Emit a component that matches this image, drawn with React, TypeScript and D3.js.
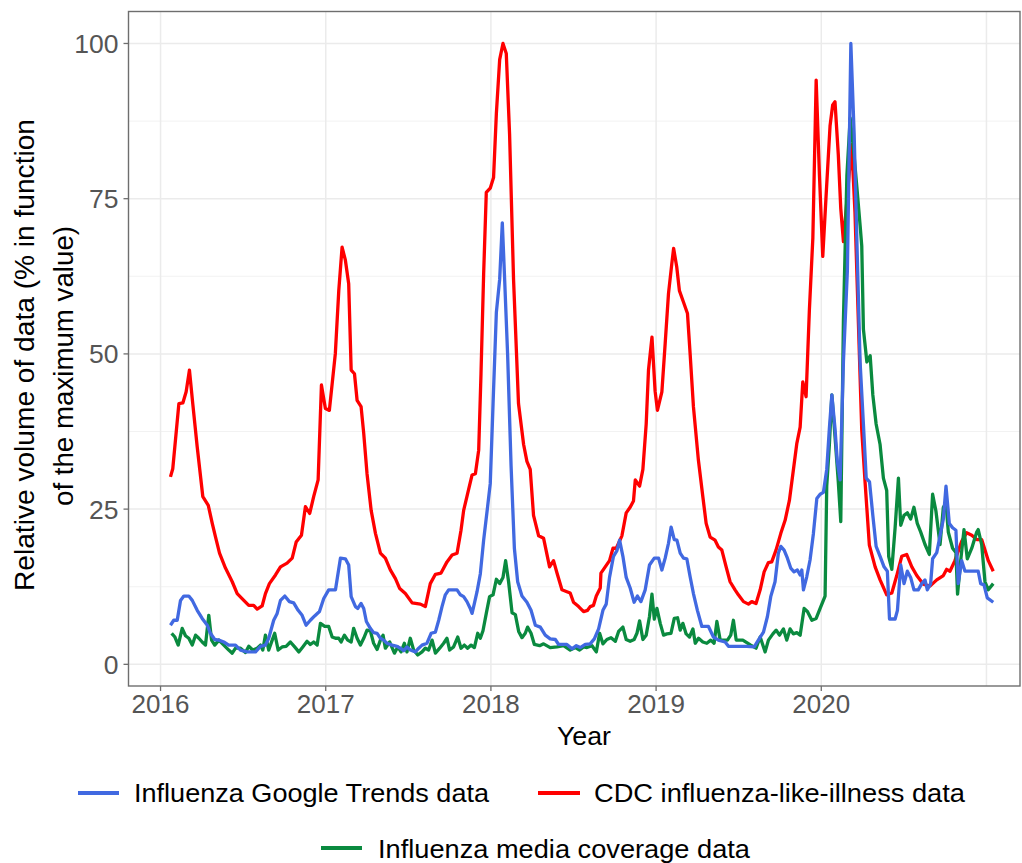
import React from "react";
import * as d3 from "d3";

// Weekly series: [decimal year, relative volume %]
const googleTrends: [number, number][] = [
  [2016.060, 6.3], [2016.080, 7.1], [2016.101, 7.1], [2016.121, 10.3], [2016.141, 11], [2016.171, 11],
  [2016.192, 10.3], [2016.222, 8.7], [2016.252, 7.4], [2016.283, 6.3], [2016.302, 5], [2016.328, 4],
  [2016.353, 3.9], [2016.383, 3.6], [2016.413, 3.1], [2016.454, 3.1], [2016.484, 2.3], [2016.525, 2],
  [2016.575, 2], [2016.605, 2.9], [2016.635, 3.1], [2016.655, 4.2], [2016.685, 7.1], [2016.706, 8.2],
  [2016.726, 10.3], [2016.752, 11], [2016.780, 10.1], [2016.806, 9.9], [2016.833, 8.7], [2016.857, 7.9],
  [2016.881, 6.3], [2016.907, 7.1], [2016.933, 7.8], [2016.962, 8.5], [2016.988, 10.6], [2017.018, 12],
  [2017.059, 12], [2017.089, 17.1], [2017.119, 17], [2017.139, 16], [2017.154, 10.9], [2017.180, 9.3],
  [2017.194, 9], [2017.214, 9.8], [2017.230, 9], [2017.246, 6.9], [2017.270, 5.8], [2017.290, 5.1],
  [2017.311, 5], [2017.331, 4.2], [2017.351, 3.9], [2017.371, 3.4], [2017.402, 3.1], [2017.432, 2.9],
  [2017.452, 2.6], [2017.472, 2.2], [2017.492, 2.8], [2017.512, 2.3], [2017.543, 2], [2017.563, 2.6],
  [2017.583, 3.1], [2017.613, 3.4], [2017.638, 5], [2017.664, 5.2], [2017.684, 7.1], [2017.704, 9.3],
  [2017.724, 11.2], [2017.744, 12], [2017.795, 12], [2017.815, 11.2], [2017.835, 10.9], [2017.855, 10.1],
  [2017.875, 9], [2017.886, 8.2], [2017.900, 9.8], [2017.916, 11.7], [2017.936, 14.6], [2017.956, 20],
  [2017.980, 25.4], [2017.996, 29.1], [2018.013, 42], [2018.033, 56.7], [2018.053, 62], [2018.069, 71.1],
  [2018.081, 63.4], [2018.101, 50], [2018.122, 32], [2018.142, 18.7], [2018.162, 13.3], [2018.188, 11],
  [2018.218, 10], [2018.243, 8.7], [2018.269, 6.3], [2018.299, 6], [2018.329, 4.7], [2018.359, 4.1],
  [2018.390, 4], [2018.410, 3.2], [2018.460, 3.2], [2018.491, 2.5], [2018.517, 3], [2018.541, 2.7],
  [2018.571, 3.2], [2018.601, 3.3], [2018.626, 4.1], [2018.652, 5.7], [2018.678, 8.7], [2018.698, 9.7],
  [2018.718, 14], [2018.742, 17.4], [2018.763, 18.3], [2018.779, 20], [2018.799, 17.4], [2018.819, 14],
  [2018.843, 12.3], [2018.867, 10], [2018.887, 11], [2018.908, 10.1], [2018.934, 12], [2018.960, 16],
  [2018.989, 17.1], [2019.015, 17.1], [2019.035, 15.2], [2019.055, 17.1], [2019.075, 19.5], [2019.091, 22.1],
  [2019.110, 20.1], [2019.126, 20], [2019.146, 17.9], [2019.166, 17.1], [2019.186, 17], [2019.206, 14.1],
  [2019.226, 11.4], [2019.250, 8.7], [2019.277, 6.1], [2019.317, 6.1], [2019.347, 4.4], [2019.377, 3.9],
  [2019.418, 3.6], [2019.438, 2.9], [2019.549, 2.9], [2019.594, 2.8], [2019.619, 3.9], [2019.650, 5.2],
  [2019.674, 7.7], [2019.694, 10.9], [2019.720, 13.3], [2019.740, 17.9], [2019.755, 19], [2019.775, 18.4],
  [2019.795, 17.1], [2019.815, 15.5], [2019.835, 14.9], [2019.855, 15.2], [2019.872, 14.4], [2019.882, 15.2],
  [2019.892, 12], [2019.912, 14.1], [2019.932, 16.8], [2019.952, 21], [2019.973, 26.7], [2019.993, 27.4],
  [2020.013, 27.7], [2020.033, 31.4], [2020.049, 38], [2020.064, 43.4], [2020.083, 38], [2020.097, 32.7],
  [2020.114, 29.7], [2020.134, 48.7], [2020.158, 63.4], [2020.179, 100], [2020.199, 85.4], [2020.215, 68.7],
  [2020.235, 48.7], [2020.255, 38.7], [2020.272, 30], [2020.292, 29.4], [2020.312, 24], [2020.332, 19],
  [2020.356, 17.4], [2020.380, 15.7], [2020.400, 15], [2020.413, 7.3], [2020.447, 7.3], [2020.461, 8.7],
  [2020.481, 16], [2020.501, 13], [2020.521, 15], [2020.541, 14], [2020.561, 12], [2020.587, 12],
  [2020.608, 13], [2020.628, 13.6], [2020.642, 12], [2020.662, 13], [2020.674, 17], [2020.699, 18],
  [2020.719, 20.7], [2020.739, 23.4], [2020.755, 28.7], [2020.775, 22.7], [2020.795, 22], [2020.815, 21.6],
  [2020.829, 13], [2020.850, 16.7], [2020.870, 15], [2020.950, 15], [2020.965, 13], [2020.985, 12.8],
  [2021.005, 10.7], [2021.041, 10],
];

const cdcIli: [number, number][] = [
  [2016.060, 30.2], [2016.074, 31.5], [2016.111, 42], [2016.135, 42.1], [2016.155, 43.9], [2016.175, 47.4],
  [2016.195, 42], [2016.222, 35], [2016.256, 27], [2016.289, 25.6], [2016.313, 22.7], [2016.333, 20.5],
  [2016.357, 17.9], [2016.393, 15.5], [2016.434, 13.3], [2016.464, 11.4], [2016.504, 10.3], [2016.534, 9.5],
  [2016.564, 9.5], [2016.585, 8.9], [2016.615, 9.4], [2016.635, 11.4], [2016.659, 13], [2016.696, 14.4],
  [2016.726, 15.7], [2016.766, 16.3], [2016.797, 17.1], [2016.821, 19.7], [2016.853, 20.8], [2016.877, 25.4],
  [2016.903, 24.3], [2016.927, 27], [2016.954, 29.7], [2016.974, 45], [2016.998, 41.2], [2017.022, 40.9],
  [2017.058, 50], [2017.079, 60.2], [2017.099, 67.2], [2017.119, 65.1], [2017.139, 61.3], [2017.154, 47.4],
  [2017.174, 46.8], [2017.190, 42.5], [2017.214, 41.5], [2017.230, 37.2], [2017.250, 30.7], [2017.275, 24.8],
  [2017.301, 21.1], [2017.331, 17.9], [2017.361, 17.1], [2017.391, 15.2], [2017.422, 13.8], [2017.448, 12.2],
  [2017.482, 11.4], [2017.523, 9.9], [2017.573, 9.7], [2017.603, 9.3], [2017.633, 13], [2017.664, 14.5],
  [2017.698, 14.7], [2017.734, 16.5], [2017.765, 17.6], [2017.795, 17.9], [2017.819, 21.6], [2017.835, 24.8],
  [2017.859, 27.5], [2017.886, 30.5], [2017.906, 30.7], [2017.926, 34.5], [2017.940, 46.8], [2017.956, 62.9],
  [2017.972, 76], [2017.996, 76.7], [2018.016, 78.4], [2018.033, 88.7], [2018.053, 97.4], [2018.073, 100],
  [2018.093, 98.4], [2018.113, 85.4], [2018.137, 62], [2018.167, 42], [2018.198, 35.4], [2018.218, 32.7],
  [2018.238, 31.4], [2018.258, 24], [2018.289, 20.7], [2018.319, 20.3], [2018.355, 15.7], [2018.379, 16.7],
  [2018.400, 14.7], [2018.430, 12], [2018.460, 11.7], [2018.480, 11.5], [2018.500, 10], [2018.531, 9.3],
  [2018.561, 8.5], [2018.585, 8.7], [2018.601, 9.3], [2018.621, 9.5], [2018.638, 11], [2018.662, 12.3],
  [2018.666, 14.7], [2018.692, 15.7], [2018.718, 16.7], [2018.739, 18.7], [2018.759, 18.7], [2018.793, 20.7],
  [2018.819, 24.4], [2018.843, 25.3], [2018.863, 26.3], [2018.874, 29.7], [2018.900, 28.7], [2018.920, 31.4],
  [2018.940, 38.7], [2018.954, 47.4], [2018.975, 52.7], [2018.994, 44], [2019.008, 40.9], [2019.035, 43.9],
  [2019.055, 51.7], [2019.075, 59.7], [2019.095, 64.5], [2019.106, 67], [2019.125, 64], [2019.141, 60.2],
  [2019.165, 58.4], [2019.190, 56.5], [2019.206, 50], [2019.226, 41.5], [2019.256, 32.9], [2019.283, 27],
  [2019.303, 22.7], [2019.327, 20.5], [2019.357, 20], [2019.377, 18.9], [2019.398, 18.4], [2019.424, 15.7],
  [2019.448, 13.3], [2019.478, 12], [2019.498, 11.2], [2019.529, 10.1], [2019.559, 9.7], [2019.579, 10.1],
  [2019.605, 9.8], [2019.630, 12], [2019.654, 14.9], [2019.680, 16.4], [2019.700, 16.5], [2019.726, 18.4],
  [2019.755, 21.1], [2019.781, 23.2], [2019.807, 26.4], [2019.831, 31.3], [2019.852, 35.6], [2019.872, 38.2],
  [2019.888, 45.5], [2019.908, 43.1], [2019.928, 57.1], [2019.949, 68.7], [2019.969, 94.1], [2019.989, 78.7],
  [2020.009, 65.7], [2020.029, 75.4], [2020.053, 86.7], [2020.069, 90.1], [2020.083, 90.6], [2020.103, 82.1],
  [2020.118, 73.4], [2020.134, 68.1], [2020.184, 83.7], [2020.204, 72.8], [2020.224, 55.6], [2020.245, 37.7],
  [2020.265, 29.4], [2020.291, 19.2], [2020.326, 15.7], [2020.356, 13.6], [2020.396, 11.2], [2020.427, 11.5],
  [2020.457, 14.3], [2020.487, 17.4], [2020.517, 17.7], [2020.548, 15.7], [2020.578, 14.3], [2020.618, 12.9],
  [2020.658, 12.6], [2020.699, 13.6], [2020.739, 14.3], [2020.759, 15.3], [2020.779, 15], [2020.809, 16.7],
  [2020.850, 19.8], [2020.880, 21.2], [2020.911, 20.8], [2020.941, 20.1], [2020.971, 20.1], [2020.991, 18.4],
  [2021.011, 16.7], [2021.041, 15],
];

const mediaCoverage: [number, number][] = [
  [2016.067, 5], [2016.087, 4.4], [2016.107, 3.1], [2016.131, 5.8], [2016.151, 4.6], [2016.171, 4.2],
  [2016.192, 3.1], [2016.212, 4.7], [2016.232, 4.2], [2016.252, 3.6], [2016.272, 3.1], [2016.292, 7.9],
  [2016.309, 3.9], [2016.328, 3.1], [2016.353, 3.9], [2016.383, 3.1], [2016.413, 2.3], [2016.434, 1.8],
  [2016.454, 2.6], [2016.484, 2.6], [2016.514, 1.9], [2016.534, 2.9], [2016.558, 2.3], [2016.585, 2.6],
  [2016.605, 3.1], [2016.619, 2.3], [2016.635, 4.7], [2016.655, 2.3], [2016.676, 3.9], [2016.691, 5],
  [2016.712, 2.3], [2016.736, 2.8], [2016.760, 2.9], [2016.786, 3.6], [2016.812, 2.8], [2016.837, 2],
  [2016.861, 2.8], [2016.887, 3.7], [2016.907, 3.2], [2016.927, 3.6], [2016.948, 3.1], [2016.968, 6.6],
  [2016.994, 6.1], [2017.018, 6.1], [2017.039, 4.4], [2017.059, 4.2], [2017.079, 4.2], [2017.093, 3.6],
  [2017.113, 4.7], [2017.133, 3.9], [2017.154, 3.6], [2017.169, 5.8], [2017.190, 4.2], [2017.210, 3.1],
  [2017.230, 4.2], [2017.250, 5.5], [2017.270, 5.4], [2017.290, 3.4], [2017.311, 2.4], [2017.331, 3.9],
  [2017.347, 4.7], [2017.361, 2.6], [2017.387, 3.6], [2017.416, 1.8], [2017.436, 2.8], [2017.456, 2],
  [2017.476, 3.4], [2017.492, 2], [2017.512, 4.2], [2017.532, 2.3], [2017.557, 1.5], [2017.583, 2],
  [2017.603, 2.6], [2017.623, 2.3], [2017.644, 3.9], [2017.664, 1.8], [2017.690, 2.6], [2017.714, 3.4],
  [2017.734, 4.2], [2017.750, 2.3], [2017.774, 2.8], [2017.799, 4.4], [2017.819, 2.6], [2017.839, 3.1],
  [2017.859, 2.6], [2017.880, 3.1], [2017.900, 2.7], [2017.920, 5], [2017.936, 4.2], [2017.952, 5.4],
  [2017.972, 8.2], [2017.992, 10.9], [2018.013, 11.2], [2018.033, 13.7], [2018.053, 13], [2018.073, 14],
  [2018.089, 16.7], [2018.107, 13.3], [2018.128, 8.3], [2018.148, 8], [2018.168, 5.3], [2018.188, 4.3],
  [2018.208, 5], [2018.222, 6], [2018.243, 5], [2018.263, 3.2], [2018.295, 3], [2018.319, 3.3],
  [2018.359, 2.7], [2018.400, 2.8], [2018.440, 3], [2018.480, 2.3], [2018.511, 2.7], [2018.537, 2.3],
  [2018.561, 2.8], [2018.581, 2.7], [2018.612, 3], [2018.638, 2], [2018.658, 5], [2018.678, 3.3],
  [2018.702, 4], [2018.727, 4.3], [2018.753, 3.7], [2018.773, 5.3], [2018.799, 6], [2018.819, 4],
  [2018.843, 3.7], [2018.867, 4], [2018.884, 5], [2018.900, 7], [2018.920, 4], [2018.940, 4.7],
  [2018.960, 7.7], [2018.975, 11.3], [2018.989, 7.3], [2019.005, 9], [2019.025, 6.6], [2019.045, 4.7],
  [2019.065, 4.9], [2019.090, 5], [2019.110, 7.4], [2019.130, 7.5], [2019.146, 5.5], [2019.162, 6.6],
  [2019.182, 4.9], [2019.202, 4.4], [2019.223, 5.7], [2019.237, 3.4], [2019.257, 4.2], [2019.283, 3.6],
  [2019.307, 3.4], [2019.331, 3.9], [2019.351, 3.4], [2019.368, 6.9], [2019.388, 3.9], [2019.432, 3.9],
  [2019.452, 4.7], [2019.468, 7.1], [2019.485, 3.9], [2019.525, 3.9], [2019.549, 3.5], [2019.573, 3.1],
  [2019.605, 2.6], [2019.630, 4.4], [2019.660, 2], [2019.680, 3.9], [2019.707, 4.9], [2019.727, 5.5],
  [2019.747, 4.7], [2019.771, 5.7], [2019.791, 3.9], [2019.811, 5.7], [2019.831, 4.9], [2019.852, 5.1],
  [2019.872, 4.7], [2019.896, 9], [2019.916, 8.5], [2019.943, 7.1], [2019.969, 7.4], [2019.993, 9],
  [2020.023, 11], [2020.033, 28.7], [2020.049, 35.4], [2020.064, 43.4], [2020.083, 36.7], [2020.103, 29.4],
  [2020.118, 23], [2020.134, 55.4], [2020.155, 78.7], [2020.175, 88], [2020.195, 83], [2020.215, 77],
  [2020.235, 70.7], [2020.245, 67.4], [2020.255, 54], [2020.276, 48.7], [2020.296, 49.7], [2020.312, 43.4],
  [2020.332, 38.7], [2020.356, 35.4], [2020.376, 30], [2020.396, 28], [2020.408, 17.4], [2020.427, 15.3],
  [2020.447, 22], [2020.467, 30], [2020.481, 22.4], [2020.501, 24], [2020.521, 24.4], [2020.541, 23.4],
  [2020.561, 25.3], [2020.581, 22.7], [2020.602, 21.3], [2020.628, 19.3], [2020.654, 17.7], [2020.674, 27.4],
  [2020.694, 24.7], [2020.719, 19.3], [2020.739, 25.3], [2020.755, 26], [2020.769, 21.3], [2020.795, 18.7],
  [2020.815, 18], [2020.825, 11.3], [2020.844, 16.7], [2020.864, 21.7], [2020.884, 17], [2020.911, 18.7],
  [2020.941, 21.3], [2020.950, 21.7], [2020.971, 19.3], [2020.991, 13.3], [2021.011, 12], [2021.041, 13],
];

const yearTicks = [2016, 2017, 2018, 2019, 2020];
const valueTicks = [0, 25, 50, 75, 100];
const valueMinorTicks = [12.5, 37.5, 62.5, 87.5];

const seriesNames = [
  "Influenza Google Trends data",
  "CDC influenza-like-illness data",
  "Influenza media coverage data",
];
const seriesColors = ["#4169E1", "#FF0000", "#0A8A3F"];

const W = 1022;
const H = 863;
const panel = { left: 128.5, right: 1020, top: 11.5, bottom: 686 };
const FONT = "'Liberation Sans', Arial, Helvetica, sans-serif";

export default function App() {
  const x = d3.scaleLinear().domain([2015.806, 2021.203]).range([panel.left, panel.right]);
  const y = d3.scaleLinear().domain([-3.49, 105.15]).range([panel.bottom, panel.top]);
  const line = d3
    .line<[number, number]>()
    .x((d) => x(d[0]))
    .y((d) => y(d[1]));

  const gridX = [...yearTicks, 2021];
  const drawOrder: { data: [number, number][]; color: string }[] = [
    { data: cdcIli, color: seriesColors[1] },
    { data: mediaCoverage, color: seriesColors[2] },
    { data: googleTrends, color: seriesColors[0] },
  ];

  return (
    <svg
      width={W}
      height={H}
      style={{ position: "absolute", left: 0, top: 0, background: "#fff" }}
      fontFamily={FONT}
    >
      <rect x={0} y={0} width={W} height={H} fill="#fff" />
      {/* grid */}
      <g>
        {valueMinorTicks.map((v) => (
          <line key={"ym" + v} x1={panel.left} x2={panel.right} y1={y(v)} y2={y(v)} stroke="#F2F2F2" strokeWidth={1} />
        ))}
        {valueTicks.map((v) => (
          <line key={"y" + v} x1={panel.left} x2={panel.right} y1={y(v)} y2={y(v)} stroke="#EBEBEB" strokeWidth={1.5} />
        ))}
        {gridX.map((v) => (
          <line key={"x" + v} x1={x(v)} x2={x(v)} y1={panel.top} y2={panel.bottom} stroke="#EBEBEB" strokeWidth={1.5} />
        ))}
      </g>
      {/* series */}
      <g fill="none" strokeLinejoin="round" strokeLinecap="butt">
        {drawOrder.map((s, i) => (
          <path key={i} d={line(s.data) || ""} stroke={s.color} strokeWidth={3.3} />
        ))}
      </g>
      {/* panel border */}
      <rect
        x={panel.left}
        y={panel.top}
        width={panel.right - panel.left}
        height={panel.bottom - panel.top}
        fill="none"
        stroke="#6E6E6E"
        strokeWidth={1.4}
      />
      {/* y axis */}
      <g>
        {valueTicks.map((v) => (
          <g key={"yt" + v}>
            <line x1={panel.left - 5} x2={panel.left} y1={y(v)} y2={y(v)} stroke="#6E6E6E" strokeWidth={1.3} />
            <text
              x={panel.left - 10}
              y={y(v)}
              dy="0.36em"
              textAnchor="end"
              fontSize={26.5}
              fill="#555555"
            >
              {v}
            </text>
          </g>
        ))}
      </g>
      {/* x axis */}
      <g>
        {yearTicks.map((v) => (
          <g key={"xt" + v}>
            <line x1={x(v)} x2={x(v)} y1={panel.bottom} y2={panel.bottom + 5} stroke="#6E6E6E" strokeWidth={1.3} />
            <text x={x(v)} y={713} textAnchor="middle" fontSize={26} fill="#555555">
              {v}
            </text>
          </g>
        ))}
      </g>
      {/* axis titles */}
      <text x={584} y={745} textAnchor="middle" fontSize={26} textLength={54} lengthAdjust="spacingAndGlyphs" fill="#000">
        Year
      </text>
      <g transform={`translate(34, 355) rotate(-90)`}>
        <text x={0} y={0} textAnchor="middle" fontSize={27} textLength={472} lengthAdjust="spacingAndGlyphs" fill="#000">
          Relative volume of data (% in function
        </text>
        <text x={0} y={39} dx={-11} textAnchor="middle" fontSize={27} textLength={280} lengthAdjust="spacingAndGlyphs" fill="#000">
          of the maximum value)
        </text>
      </g>
      {/* legend */}
      <g fontSize={26} fill="#000">
        <line x1={78} x2={119} y1={793} y2={793} stroke={seriesColors[0]} strokeWidth={4} />
        <text x={134} y={802} textLength={355} lengthAdjust="spacingAndGlyphs">{seriesNames[0]}</text>
        <line x1={538} x2={580} y1={793} y2={793} stroke={seriesColors[1]} strokeWidth={4} />
        <text x={594} y={802} textLength={371} lengthAdjust="spacingAndGlyphs">{seriesNames[1]}</text>
        <line x1={321} x2={362} y1={848} y2={848} stroke={seriesColors[2]} strokeWidth={4} />
        <text x={378} y={858} textLength={372} lengthAdjust="spacingAndGlyphs">{seriesNames[2]}</text>
      </g>
    </svg>
  );
}
